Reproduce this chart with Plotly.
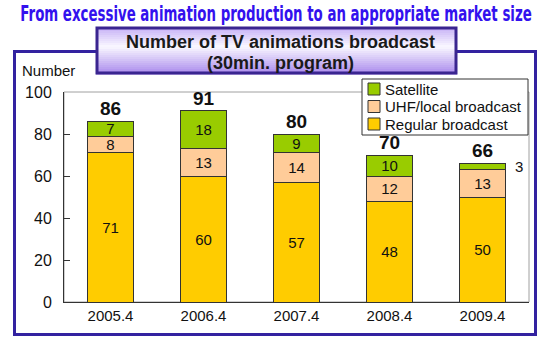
import plotly.graph_objects as go

categories = ["2005.4", "2006.4", "2007.4", "2008.4", "2009.4"]
regular = [71, 60, 57, 48, 50]
uhf = [8, 13, 14, 12, 13]
satellite = [7, 18, 9, 10, 3]
series_names = ["Regular broadcast", "UHF/local broadcast", "Satellite"]
colors = ["#FFCC00", "#FFCC99", "#99CC00"]
y_ticks = [0, 20, 40, 60, 80, 100]

totals = [a + b + c for a, b, c in zip(regular, uhf, satellite)]

W, H = 550, 352
L, R, T, B = 64, 529, 92, 302


def fx(x):
    return (x - L) / (R - L)


def fy(y):
    return (B - y) / (B - T)


FONT = "Liberation Sans, Arial, sans-serif"
TITLE = "From excessive animation production to an appropriate market size"
TITLE_SIZE = 13

fig = go.Figure()
series = [regular, uhf, satellite]
for name, vals, col in zip(series_names, series, colors):
    texts = [str(v) if v >= 5 else "" for v in vals]
    fig.add_trace(go.Bar(
        x=categories, y=vals, name=name,
        marker=dict(color=col, line=dict(color="#333333", width=1)),
        text=texts, textposition="inside", insidetextanchor="middle",
        textangle=0, constraintext="none",
        textfont=dict(family=FONT, size=15, color="#111111"),
        hoverinfo="skip", showlegend=False,
    ))

annotations = []
# totals above bars
for i, t in enumerate(totals):
    annotations.append(dict(x=i, y=t, xref="x", yref="y", text=str(t),
                            showarrow=False, yanchor="bottom",
                            font=dict(family=FONT, size=19, color="#111111", weight="bold")))
# small segment labels placed outside
base = [a + b for a, b in zip(regular, uhf)]
for i, (bval, v) in enumerate(zip(base, satellite)):
    if v < 5:
        annotations.append(dict(x=i, y=bval + v / 2, xref="x", yref="y", text=str(v),
                                showarrow=False, xshift=36,
                                font=dict(family=FONT, size=15, color="#111111")))

# main title (condensed look obtained by a vertical stretch in the page script)
annotations.append(dict(x=fx(275.5), y=fy(16.5), xref="paper", yref="paper",
                        text=TITLE,
                        showarrow=False, xanchor="center", yanchor="middle",
                        font=dict(family="DejaVu Sans, sans-serif",
                                  size=TITLE_SIZE, color="#3311EE", weight="bold")))
# boxed title
annotations.append(dict(x=fx(280), y=fy(42), xref="paper", yref="paper",
                        text="Number of TV animations broadcast", showarrow=False,
                        xanchor="center", yanchor="middle",
                        font=dict(family=FONT, size=18, color="#1a1a1a", weight="bold")))
annotations.append(dict(x=fx(280), y=fy(63), xref="paper", yref="paper",
                        text="(30min. program)", showarrow=False,
                        xanchor="center", yanchor="middle",
                        font=dict(family=FONT, size=18, color="#1a1a1a", weight="bold")))
# y axis title
annotations.append(dict(x=fx(20), y=fy(71), xref="paper", yref="paper",
                        text="Number", showarrow=False, xanchor="left", yanchor="middle",
                        font=dict(family=FONT, size=15, color="#111111")))

shapes = []
# outer frame
shapes.append(dict(type="rect", xref="paper", yref="paper",
                   x0=fx(14.5), x1=fx(535.5), y0=fy(51.5), y1=fy(334.5),
                   line=dict(color="#3322A0", width=3), fillcolor="rgba(0,0,0,0)", layer="below"))
# plot area border
shapes.append(dict(type="rect", xref="paper", yref="paper", x0=0, x1=1, y0=0, y1=1,
                   line=dict(color="#A0A0A0", width=1), layer="below"))

# title box gradient
bx0, bx1, by0, by1 = 96, 457, 27, 74
stops = [(0.0, (196, 174, 246)), (0.42, (250, 248, 255)), (1.0, (168, 136, 236))]


def grad(t):
    for (t0, c0), (t1, c1) in zip(stops[:-1], stops[1:]):
        if t0 <= t <= t1:
            f = (t - t0) / (t1 - t0)
            return tuple(int(round(a + (b - a) * f)) for a, b in zip(c0, c1))
    return stops[-1][1]


step = 2
y = by0
while y < by1:
    y2 = min(y + step, by1)
    col = grad(((y + y2) / 2 - by0) / (by1 - by0))
    shapes.append(dict(type="rect", xref="paper", yref="paper",
                       x0=fx(bx0), x1=fx(bx1), y0=fy(y2) - 0.002, y1=fy(y),
                       line=dict(width=0), fillcolor="rgb(%d,%d,%d)" % col))
    y = y2
shapes.append(dict(type="rect", xref="paper", yref="paper",
                   x0=fx(bx0 + 1), x1=fx(bx1 - 1), y0=fy(by1 - 1), y1=fy(by0 + 1),
                   line=dict(color="#3A2590", width=3), fillcolor="rgba(0,0,0,0)"))

# manual legend
lx0, lx1, ly0, ly1 = 362, 528, 79, 135
shapes.append(dict(type="rect", xref="paper", yref="paper",
                   x0=fx(lx0), x1=fx(lx1), y0=fy(ly1), y1=fy(ly0),
                   line=dict(color="#333333", width=1), fillcolor="white"))
leg_order = [2, 1, 0]
leg_y = [89, 106.5, 124]
for idx, yy in zip(leg_order, leg_y):
    shapes.append(dict(type="rect", xref="paper", yref="paper",
                       x0=fx(368), x1=fx(380), y0=fy(yy + 6), y1=fy(yy - 6),
                       line=dict(color="#333333", width=1), fillcolor=colors[idx]))
    annotations.append(dict(x=fx(383), y=fy(yy), xref="paper", yref="paper",
                            text=series_names[idx], showarrow=False,
                            xanchor="left", yanchor="middle",
                            font=dict(family=FONT, size=15, color="#111111")))

fig.update_layout(
    width=W, height=H,
    margin=dict(l=L, r=W - R, t=T, b=H - B),
    barmode="stack", bargap=0.5,
    paper_bgcolor="white", plot_bgcolor="white",
    showlegend=False,
    xaxis=dict(type="category", showline=True, linecolor="#333333", linewidth=1,
               ticks="", showgrid=False, zeroline=False, range=[-0.5, 4.5],
               tickfont=dict(family=FONT, size=15, color="#111111")),
    yaxis=dict(range=[0, 100], tickvals=y_ticks, showline=True, linecolor="#333333",
               linewidth=1, ticks="inside", ticklen=6, tickcolor="#333333",
               showgrid=False, zeroline=False, ticklabelstandoff=8,
               tickfont=dict(family=FONT, size=16, color="#111111")),
    shapes=shapes, annotations=annotations,
)

post = """
var gd = document.getElementById('{plot_id}');
function stretchTitle(){
  gd.querySelectorAll('text.annotation-text').forEach(function(t){
    if (t.textContent.indexOf('From excessive') === 0) {
      var orig = t.getAttribute('data-orig-tf');
      if (orig === null) { orig = t.getAttribute('transform') || ''; t.setAttribute('data-orig-tf', orig); }
      var bb = t.getBBox();
      var sx = 512 / bb.width;
      var sy = 22 / %d;
      var cx = bb.x + bb.width / 2;
      var cy = bb.y + bb.height * 0.797;
      t.setAttribute('transform', orig + ' translate(' + cx + ',' + cy + ') scale(' + sx + ',' + sy + ') translate(' + (-cx) + ',' + (-cy) + ')');
    }
  });
}
stretchTitle();
gd.on('plotly_afterplot', stretchTitle);
""" % TITLE_SIZE

fig.write_html("out.html", post_script=post)
